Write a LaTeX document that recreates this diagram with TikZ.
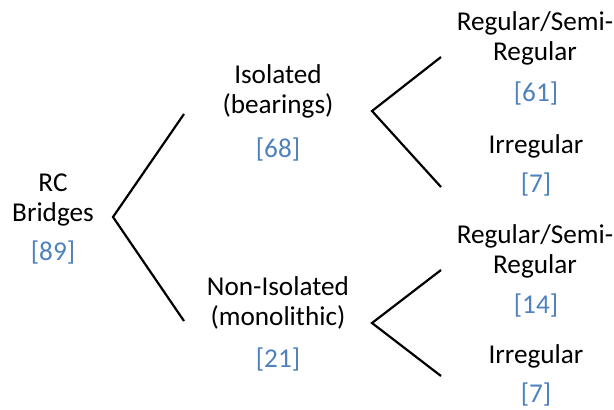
\documentclass[tikz,border=0pt]{standalone}
\usepackage{fontspec}
\setmainfont{Carlito}
\definecolor{countblue}{RGB}{79,129,189}

\begin{document}
\begin{tikzpicture}[x=0.5pt, y=-0.5pt, line width=1.1pt,
    every node/.style={font=\fontsize{13.6}{14.75}\selectfont, inner sep=0pt,
        align=center, anchor=base},
    count/.style={text=countblue}]
    \useasboundingbox (0,0) rectangle (614,409);

    % Root of the tree (base anchor sits on the last line)
    \node (root) at (53,221) {RC\\Bridges};
    \node[count] (rootnum) at (53,260) {[89]};

    % Second level: bearing type
    \node (iso) at (278,113) {Isolated\\(bearings)};
    \node[count] (isonum) at (278,157) {[68]};
    \node (noniso) at (278,325) {Non-Isolated\\(monolithic)};
    \node[count] (nonisonum) at (278,367) {[21]};

    % Leaves: geometry
    \node (isoreg) at (535,60) {Regular/Semi-\\Regular};
    \node[count] (isoregnum) at (536,101) {[61]};
    \node (isoirr) at (536,153) {Irregular};
    \node[count] (isoirrnum) at (536,192) {[7]};
    \node (nonisoreg) at (535,273) {Regular/Semi-\\Regular};
    \node[count] (nonisoregnum) at (536,313) {[14]};
    \node (nonisoirr) at (536,363) {Irregular};
    \node[count] (nonisoirrnum) at (536,402) {[7]};

    % Branch points and branch ends
    \coordinate (root-v) at (113,217);
    \coordinate (iso-in) at (184,114);
    \coordinate (noniso-in) at (184,321);
    \coordinate (iso-v) at (372,111);
    \coordinate (isoreg-in) at (441,57);
    \coordinate (isoirr-in) at (441,187);
    \coordinate (noniso-v) at (372,323);
    \coordinate (nonisoreg-in) at (441,270);
    \coordinate (nonisoirr-in) at (441,376);

    \draw (iso-in) -- (root-v) -- (noniso-in);
    \draw (isoreg-in) -- (iso-v) -- (isoirr-in);
    \draw (nonisoreg-in) -- (noniso-v) -- (nonisoirr-in);
\end{tikzpicture}
\end{document}
